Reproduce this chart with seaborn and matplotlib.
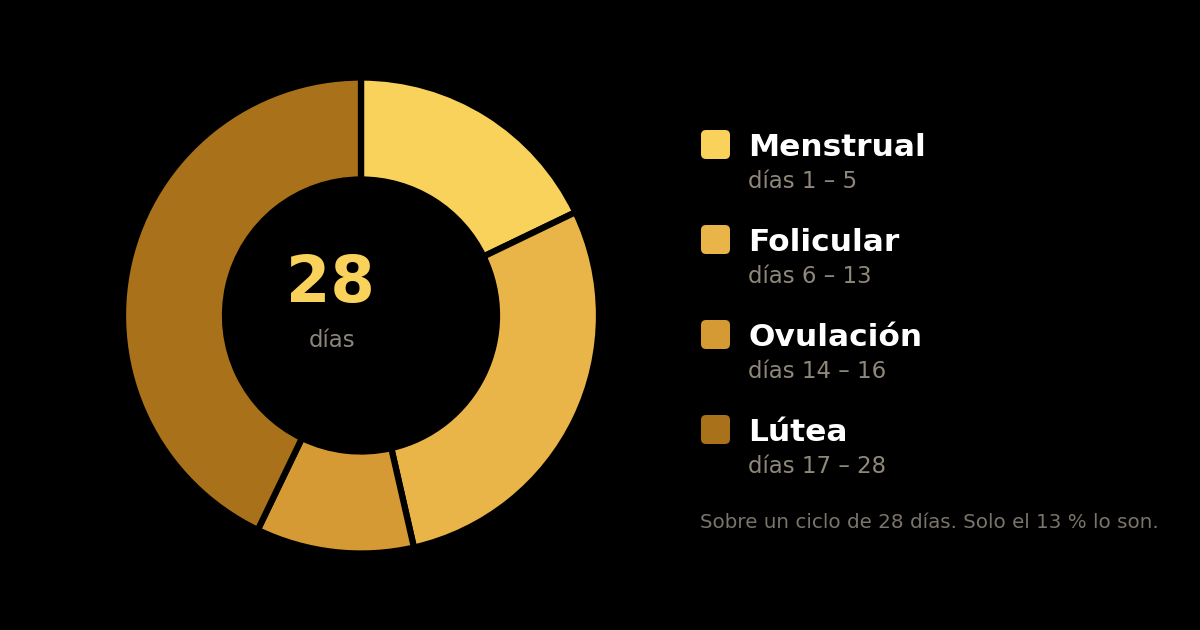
import matplotlib
matplotlib.use("Agg")
import matplotlib.pyplot as plt
from matplotlib.patches import FancyBboxPatch
import seaborn as sns

# ---- data ----
phases = ["Menstrual", "Folicular", "Ovulación", "Lútea"]
days = [5, 8, 3, 12]
ranges = ["días 1 – 5", "días 6 – 13", "días 14 – 16", "días 17 – 28"]
colors = ["#F9D25B", "#E9B548", "#D59A33", "#A9711A"]
total_label = "28"
total_unit = "días"
footnote = "Sobre un ciclo de 28 días. Solo el 13 % lo son."

sns.set_theme(style="dark", rc={"axes.facecolor": "black", "figure.facecolor": "black"})
plt.rcParams["font.family"] = ["DejaVu Sans"]
palette = sns.color_palette(colors)

W, H = 1200, 630
fig = plt.figure(figsize=(W / 100, H / 100), dpi=100)
ax = fig.add_axes([0, 0, 1, 1])
ax.set_facecolor("black")

def Y(py):
    return H - py

cx, cy = 361, 315.5
ax.pie(days, colors=palette, startangle=90, counterclock=False,
       center=(cx, Y(cy)), radius=238,
       wedgeprops=dict(width=102, edgecolor="black", linewidth=4.5))
ax.set_xlim(0, W)
ax.set_ylim(0, H)
ax.set_aspect("auto")
ax.axis("off")

ax.text(330, Y(302), total_label, color=colors[0], fontsize=46, fontweight="bold",
        ha="center", va="baseline")
ax.text(332, Y(347), total_unit, color="#8C857A", fontsize=16.5,
        ha="center", va="baseline")

row0 = 156
step = 95
for i, (name, rng, col) in enumerate(zip(phases, ranges, palette)):
    base = row0 + i * step
    sq = FancyBboxPatch((701, Y(159 + i * step)), 29, 29,
                        boxstyle="round,pad=0,rounding_size=5",
                        facecolor=col, edgecolor="none")
    ax.add_patch(sq)
    ax.text(748, Y(base), name, color="white", fontsize=22.5, fontweight="bold",
            ha="left", va="baseline")
    ax.text(748, Y(base + 32), rng, color="#8F877A", fontsize=16.5,
            ha="left", va="baseline")

ax.text(700, Y(528), footnote, color="#7A746B", fontsize=14.3,
        ha="left", va="baseline")

fig.savefig("out.png", dpi=100, facecolor="black")
